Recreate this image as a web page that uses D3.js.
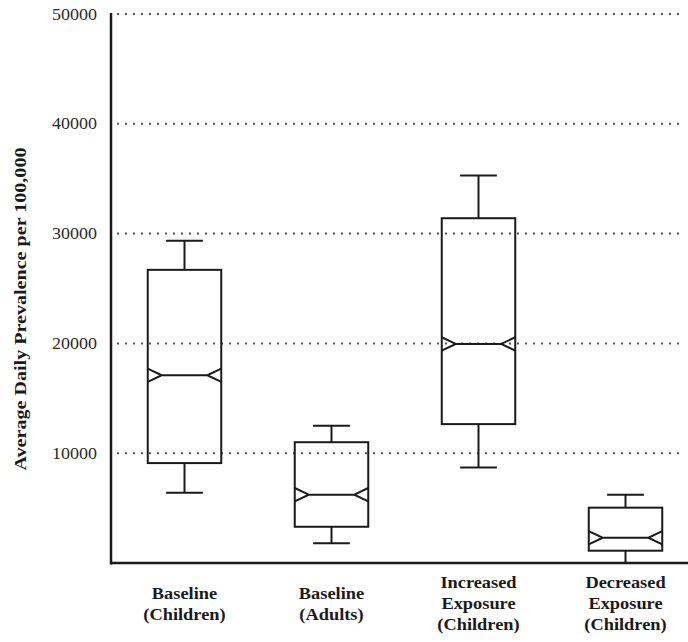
<!DOCTYPE html>
<html>
<head>
<meta charset="utf-8">
<script src="https://cdn.jsdelivr.net/npm/d3@7"></script>
<style>
  html, body { margin: 0; padding: 0; background: #fff; }
  svg { display: block; }
  svg text { font-family: "Liberation Serif", "Times New Roman", Times, serif; }
</style>
</head>
<body>
<svg id="chart" width="688" height="642"></svg>
<script>
// ---- data ----
const categories = [
  ["Baseline", "(Children)"],
  ["Baseline", "(Adults)"],
  ["Increased", "Exposure", "(Children)"],
  ["Decreased", "Exposure", "(Children)"]
];
const whiskerLow  = [6400, 1800, 8700, 0];
const quartile1   = [9100, 3300, 12650, 1120];
const medians     = [17100, 6220, 19950, 2300];
const quartile3   = [26700, 11000, 31400, 5040];
const whiskerHigh = [29350, 12500, 35300, 6220];
const yTicks = [10000, 20000, 30000, 40000, 50000];
const yTitle = "Average Daily Prevalence per 100,000";

// ---- layout ----
const svg = d3.select("#chart");
const x = d3.scaleBand().domain(d3.range(categories.length)).range([111, 699]);
const y = d3.scaleLinear().domain([0, 50000]).range([563, 14]);
const boxW = x.bandwidth() * 0.5;
const capW = x.bandwidth() * 0.25;
const notchD = 14, notchH = 6.7;
const ink = "#1a1a1a";

// gridlines
svg.append("g").selectAll("line").data(yTicks).join("line")
  .attr("x1", 117).attr("x2", 684)
  .attr("y1", d => y(d)).attr("y2", d => y(d))
  .attr("stroke", "#555").attr("stroke-width", 2)
  .attr("stroke-dasharray", "2,6");

// y axis
const yAxis = d3.axisLeft(y).tickValues(yTicks).tickSize(0).tickPadding(14).tickFormat(d3.format("d"));
const gy = svg.append("g").attr("transform", "translate(111,0)").call(yAxis);
gy.select(".domain").remove();
gy.attr("font-family", null).attr("font-size", null);
gy.selectAll("text")
  .style("font-size", "16px").attr("fill", "#2a2a2a")
  .attr("textLength", 45).attr("lengthAdjust", "spacingAndGlyphs");
svg.append("line").attr("x1", 111).attr("x2", 111).attr("y1", 13).attr("y2", 564.5)
  .attr("stroke", ink).attr("stroke-width", 2.5);

// x axis line
svg.append("line").attr("x1", 111).attr("x2", 688).attr("y1", y(0)).attr("y2", y(0))
  .attr("stroke", ink).attr("stroke-width", 2.5);

// boxes
const boxes = svg.append("g").selectAll("g").data(categories.map((c, i) => i)).join("g");
const cx = i => x(i) + x.bandwidth() / 2;
boxes.append("line") // upper whisker
  .attr("x1", cx).attr("x2", cx)
  .attr("y1", i => y(quartile3[i])).attr("y2", i => y(whiskerHigh[i]))
  .attr("stroke", ink).attr("stroke-width", 2);
boxes.append("line") // lower whisker
  .attr("x1", cx).attr("x2", cx)
  .attr("y1", i => y(quartile1[i])).attr("y2", i => y(whiskerLow[i]))
  .attr("stroke", ink).attr("stroke-width", 2);
boxes.append("line") // upper cap
  .attr("x1", i => cx(i) - capW / 2).attr("x2", i => cx(i) + capW / 2)
  .attr("y1", i => y(whiskerHigh[i])).attr("y2", i => y(whiskerHigh[i]))
  .attr("stroke", ink).attr("stroke-width", 2);
boxes.filter(i => whiskerLow[i] > 0).append("line") // lower cap
  .attr("x1", i => cx(i) - capW / 2).attr("x2", i => cx(i) + capW / 2)
  .attr("y1", i => y(whiskerLow[i])).attr("y2", i => y(whiskerLow[i]))
  .attr("stroke", ink).attr("stroke-width", 2);
boxes.append("rect")
  .attr("x", i => cx(i) - boxW / 2).attr("width", boxW)
  .attr("y", i => y(quartile3[i])).attr("height", i => y(quartile1[i]) - y(quartile3[i]))
  .attr("fill", "none").attr("stroke", ink).attr("stroke-width", 2);
boxes.append("path") // notches + median
  .attr("d", i => {
    const l = cx(i) - boxW / 2, r = cx(i) + boxW / 2, m = y(medians[i]);
    return `M${l},${m - notchH}L${l + notchD},${m}L${l},${m + notchH}` +
           `M${r},${m - notchH}L${r - notchD},${m}L${r},${m + notchH}` +
           `M${l + notchD},${m}L${r - notchD},${m}`;
  })
  .attr("fill", "none").attr("stroke", ink).attr("stroke-width", 2);

// category labels
const stretch = 1.12;
categories.forEach((lines, i) => {
  const base0 = lines.length === 3 ? 588 : 599;
  lines.forEach((t, j) => {
    const el = svg.append("text")
      .attr("x", cx(i)).attr("y", base0 + j * 20.8)
      .attr("text-anchor", "middle")
      .style("font-weight", "bold").style("font-size", "16.4px")
      .attr("fill", "#1a1a1a").text(t);
    const w = el.node().getComputedTextLength();
    el.attr("textLength", w * stretch).attr("lengthAdjust", "spacingAndGlyphs");
  });
});

// y title
svg.append("text")
  .attr("transform", "translate(26,309) rotate(-90)")
  .attr("text-anchor", "middle")
  .style("font-weight", "bold").style("font-size", "17.5px")
  .attr("fill", "#1a1a1a")
  .attr("textLength", 323).attr("lengthAdjust", "spacingAndGlyphs")
  .text(yTitle);
</script>
</body>
</html>
